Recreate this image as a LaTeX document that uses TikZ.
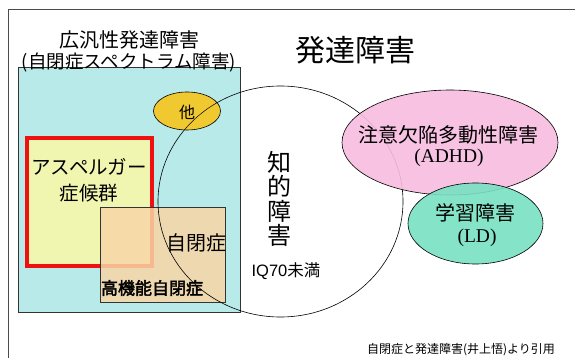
\documentclass[tikz,border=0pt]{standalone}
\usepackage{fontspec}
\usetikzlibrary{shapes.geometric}
\setmainfont{Liberation Serif}
\newfontfamily\jp{Noto Sans CJK JP}
\newfontfamily\jpb[FakeBold=2.5]{Noto Sans CJK JP}
\newfontfamily\lsans{Liberation Sans}
\definecolor{cyanfill}{HTML}{B8EAEA}
\definecolor{aspfill}{HTML}{F0F6B0}
\definecolor{peach}{HTML}{F8D6A6}
\definecolor{pinkfill}{HTML}{F8BCE0}
\definecolor{greenfill}{HTML}{78E0C2}
\definecolor{yellowfill}{HTML}{F0C830}
\definecolor{asred}{HTML}{F01010}
\begin{document}
\begin{tikzpicture}[x=1pt,y=-1pt,
  lbl/.style={inner sep=0pt,font=\jp},
  ell/.style={ellipse,draw=black,line width=0.6pt,inner sep=0pt}]
\useasboundingbox (0,0) rectangle (575,358);
\fill[white] (0,0) rectangle (575,358);
% outer frame
\draw[line width=0.8pt,black!70] (8,365) -- (8,9) -- (580,9);
% cyan box
\node[draw=black!80,line width=0.6pt,fill=cyanfill,minimum width=222pt,minimum height=245pt,inner sep=0pt] (pdd) at (129,189.5) {};
% red asperger box
\node[draw=asred,line width=4pt,fill=aspfill,minimum width=125pt,minimum height=128pt,inner sep=0pt] (asp) at (89.5,202) {};
% autism box
\node[draw=black!80,line width=0.5pt,fill=peach,fill opacity=0.85,minimum width=125pt,minimum height=95pt,inner sep=0pt] (aut) at (162.5,254.5) {};
% intellectual disability ellipse
\draw[line width=0.6pt] (280.5,201.5) ellipse [x radius=122.5, y radius=115.5];
\coordinate (id) at (280.5,201.5);
% other ellipse
\node[ell,fill=yellowfill,minimum width=67pt,minimum height=38pt] (oth) at (187,111) {};
\begin{scope}
\clip (187,111) ellipse [x radius=33.5, y radius=19];
\draw[line width=0.5pt] (280.5,201.5) ellipse [x radius=122.5, y radius=115.5];
\end{scope}
% ADHD
\node[ell,fill=pinkfill,fill opacity=0.9,draw opacity=1,minimum width=216pt,minimum height=105pt] (adhd) at (450,142.5) {};
% LD
\node[ell,fill=greenfill,fill opacity=0.9,draw opacity=1,minimum width=135pt,minimum height=81pt] (ld) at (475.5,223.5) {};
% texts
\node[lbl,font=\jp\fontsize{20}{20}\selectfont] (t1) at (129,40) {広汎性発達障害};
\node[lbl,font=\jp\fontsize{18.5}{18.5}\selectfont] (t2) at (129,63) {(自閉症スペクトラム障害)};
\node[lbl,font=\jp\fontsize{16}{16}\selectfont] (t3) at (187,112) {他};
\node[lbl,font=\jp\fontsize{19.5}{19.5}\selectfont] (t4) at (89,167) {アスペルガー};
\node[lbl,font=\jp\fontsize{19.5}{19.5}\selectfont] (t5) at (89,193) {症候群};
\node[lbl,font=\jp\fontsize{20}{20}\selectfont] (t6) at (196,243) {自閉症};
\node[lbl,font=\jpb\fontsize{17}{17}\selectfont] (t7) at (152,288) {高機能自閉症};
\node[lbl,font=\jp\fontsize{24}{24.5}\selectfont,align=center] (t8) at (279,199) {知\\的\\障\\害};
\node[lbl,font=\lsans\fontsize{16.5}{16.5}\selectfont] (t9) at (286,271) {IQ70\jp 未満};
\node[lbl,font=\jp\fontsize{30}{30}\selectfont] (t10) at (355,50) {発達障害};
\node[lbl,font=\jp\fontsize{20}{20}\selectfont] (t11) at (448,135) {注意欠陥多動性障害};
\node[lbl,font=\fontsize{19.5}{19.5}\selectfont] (t12) at (449,158) {(ADHD)};
\node[lbl,font=\jp\fontsize{20}{20}\selectfont] (t13) at (475,213) {学習障害};
\node[lbl,font=\fontsize{19.5}{19.5}\selectfont] (t14) at (477,238) {(LD)};
\node[lbl,font=\jp\fontsize{12}{12}\selectfont] (t15) at (461,350) {自閉症と発達障害(井上悟)より引用};
\end{tikzpicture}
\end{document}
